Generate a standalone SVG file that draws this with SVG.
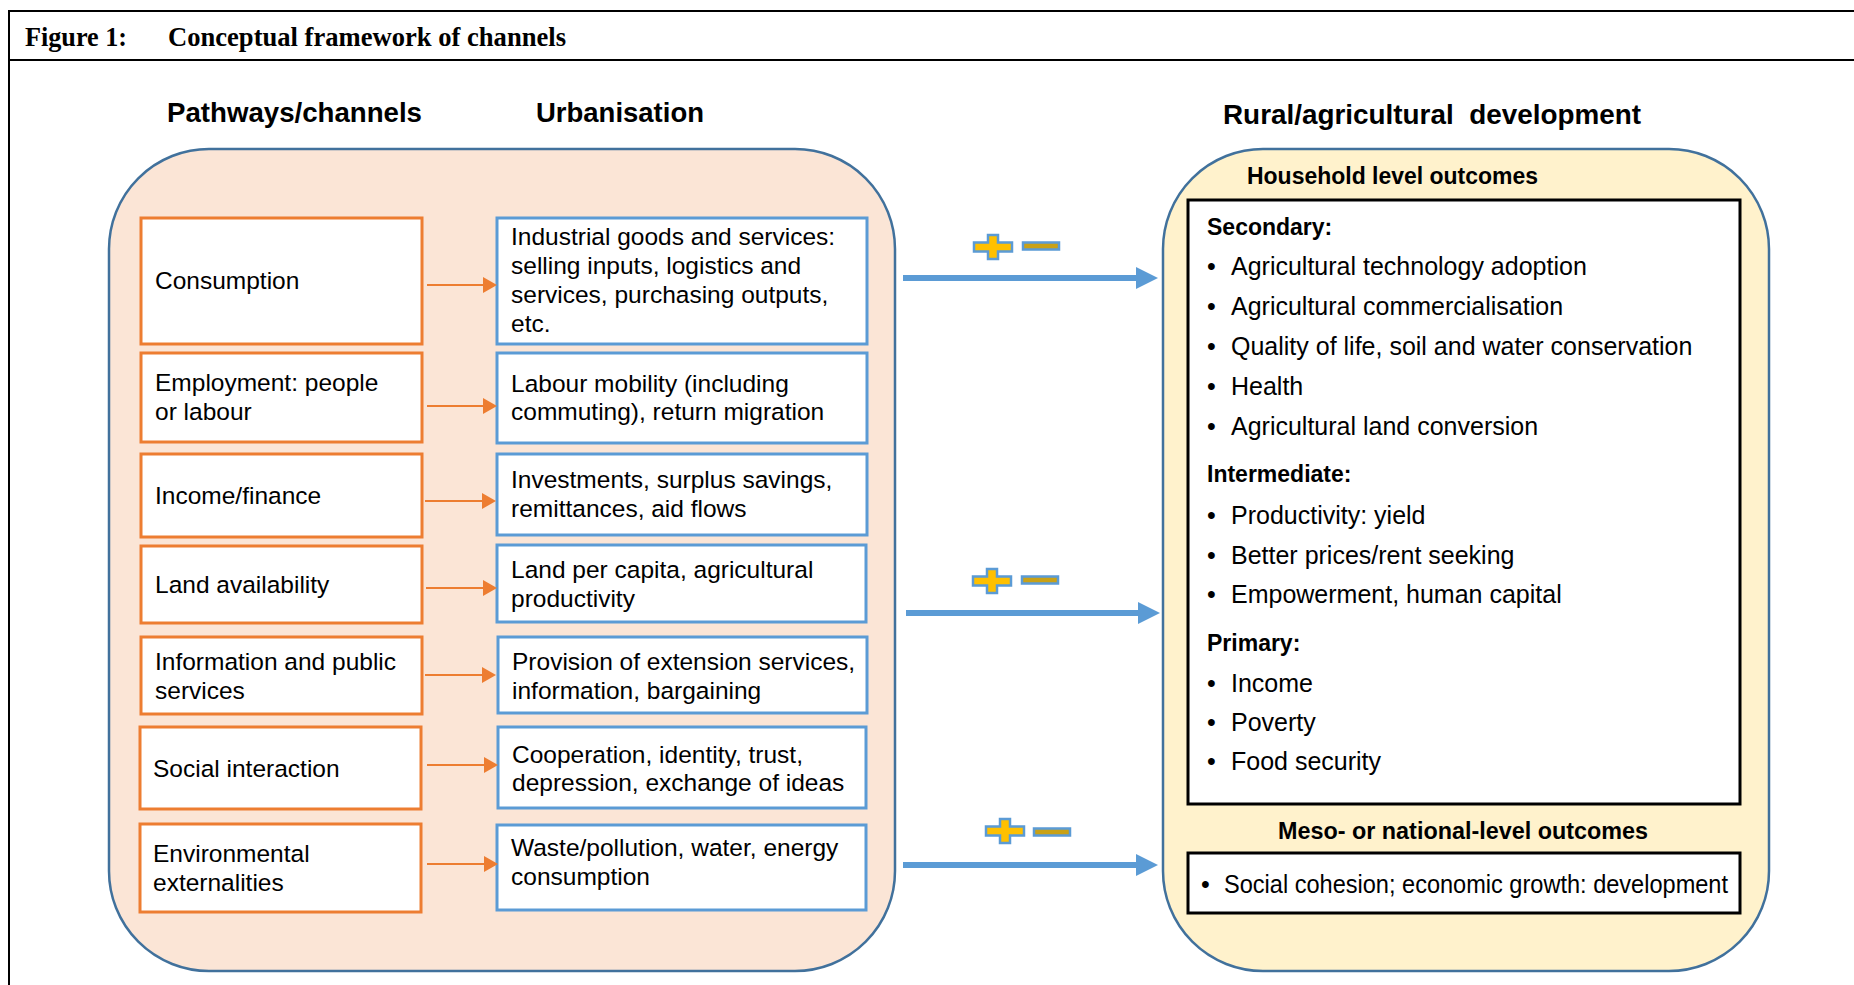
<svg xmlns="http://www.w3.org/2000/svg" width="1854" height="985" viewBox="0 0 1854 985">
<defs>
<style>
.t{font-family:"Liberation Sans",Arial,sans-serif;font-size:24.5px;fill:#000}
.tr{font-family:"Liberation Sans",Arial,sans-serif;font-size:25px;fill:#000}
.h{font-family:"Liberation Sans",Arial,sans-serif;font-size:28px;font-weight:bold;fill:#000}
.hs{font-family:"Liberation Sans",Arial,sans-serif;font-size:23px;font-weight:bold;fill:#000}
.ttl{font-family:"Liberation Serif","Times New Roman",serif;font-size:27px;font-weight:bold;fill:#000}
.ob{fill:#fff;stroke:#ED7D31;stroke-width:3}
.bb{fill:#fff;stroke:#5B9BD5;stroke-width:3}
.kb{fill:#fff;stroke:#000;stroke-width:3}
.oa{stroke:#ED7D31;stroke-width:2;fill:none}
.ba{stroke:#5B9BD5;stroke-width:6;fill:none}
.pm{fill:#FFC000;stroke:#5B9BD5;stroke-width:2.5}
.mn{fill:#C9A116;stroke:#5B9BD5;stroke-width:2.5}
</style>
<marker id="oh" markerUnits="userSpaceOnUse" markerWidth="14" markerHeight="16" viewBox="0 0 14 16" refX="0" refY="8" orient="auto"><path d="M0,0 L14,8 L0,16 Z" fill="#ED7D31"/></marker>
<marker id="bh" markerUnits="userSpaceOnUse" markerWidth="22" markerHeight="22" viewBox="0 0 22 22" refX="0" refY="11" orient="auto"><path d="M0,0 L22,11 L0,22 Z" fill="#5B9BD5"/></marker>
<path id="plus" d="M-5,-12 H5 V-4.5 H19 V4.5 H5 V12 H-5 V4.5 H-19 V-4.5 H-5 Z"/>
<rect id="minus" x="-18" y="-3.5" width="36" height="7"/>
</defs>
<rect width="1854" height="985" fill="#fff"/>
<g id="frame">
<rect x="9" y="11" width="1900" height="1000" fill="none" stroke="#000" stroke-width="2"/>
<line x1="9" y1="60" x2="1854" y2="60" stroke="#000" stroke-width="2"/>
<text class="ttl" x="25" y="46" textLength="102" lengthAdjust="spacingAndGlyphs">Figure 1:</text>
<text class="ttl" x="168" y="46" textLength="398" lengthAdjust="spacingAndGlyphs">Conceptual framework of channels</text>
</g>
<g id="headers">
<text class="h" x="167" y="122" textLength="255" lengthAdjust="spacingAndGlyphs">Pathways/channels</text>
<text class="h" x="536" y="122" textLength="168" lengthAdjust="spacingAndGlyphs">Urbanisation</text>
<text class="h" x="1223" y="124" textLength="418" lengthAdjust="spacingAndGlyphs" xml:space="preserve">Rural/agricultural  development</text>
</g>
<g id="urbanisation-panel">
<rect x="109" y="149" width="786" height="822" rx="100" ry="100" fill="#FBE5D6" stroke="#41719C" stroke-width="2.5"/>
</g>
<g id="rural-panel">
<rect x="1163" y="149" width="606" height="822" rx="100" ry="100" fill="#FFF2CC" stroke="#41719C" stroke-width="2.5"/>
<text class="hs" x="1247" y="184" textLength="291" lengthAdjust="spacingAndGlyphs">Household level outcomes</text>
<text class="hs" x="1278" y="839" textLength="370" lengthAdjust="spacingAndGlyphs">Meso- or national-level outcomes</text>
</g>
<g id="ch-consumption"><rect class="ob" x="141" y="218" width="281" height="126"/><text class="t" x="155" y="289">Consumption</text></g>
<g id="ch-employment"><rect class="ob" x="141" y="353" width="281" height="89"/><text class="t" x="155" y="391">Employment: people</text><text class="t" x="155" y="420">or labour</text></g>
<g id="ch-income"><rect class="ob" x="141" y="454" width="281" height="83"/><text class="t" x="155" y="504">Income/finance</text></g>
<g id="ch-land"><rect class="ob" x="141" y="546" width="281" height="77"/><text class="t" x="155" y="593">Land availability</text></g>
<g id="ch-information"><rect class="ob" x="141" y="637" width="281" height="77"/><text class="t" x="155" y="670">Information and public</text><text class="t" x="155" y="699">services</text></g>
<g id="ch-social"><rect class="ob" x="140" y="727" width="281" height="82"/><text class="t" x="153" y="777">Social interaction</text></g>
<g id="ch-environment"><rect class="ob" x="140" y="824" width="281" height="88"/><text class="t" x="153" y="862">Environmental</text><text class="t" x="153" y="891">externalities</text></g>
<g id="u-industrial"><rect class="bb" x="497" y="218" width="370" height="126"/><text class="t" x="511" y="245">Industrial goods and services:</text><text class="t" x="511" y="274">selling inputs, logistics and</text><text class="t" x="511" y="303">services, purchasing outputs,</text><text class="t" x="511" y="332">etc.</text></g>
<g id="u-labour"><rect class="bb" x="497" y="353" width="370" height="90"/><text class="t" x="511" y="392">Labour mobility (including</text><text class="t" x="511" y="420">commuting), return migration</text></g>
<g id="u-investments"><rect class="bb" x="497" y="454" width="370" height="81"/><text class="t" x="511" y="488">Investments, surplus savings,</text><text class="t" x="511" y="517">remittances, aid flows</text></g>
<g id="u-landpc"><rect class="bb" x="497" y="545" width="369" height="77"/><text class="t" x="511" y="578">Land per capita, agricultural</text><text class="t" x="511" y="607">productivity</text></g>
<g id="u-extension"><rect class="bb" x="498" y="637" width="369" height="76"/><text class="t" x="512" y="670">Provision of extension services,</text><text class="t" x="512" y="699">information, bargaining</text></g>
<g id="u-cooperation"><rect class="bb" x="498" y="727" width="368" height="81"/><text class="t" x="512" y="763">Cooperation, identity, trust,</text><text class="t" x="512" y="791">depression, exchange of ideas</text></g>
<g id="u-waste"><rect class="bb" x="497" y="825" width="369" height="85"/><text class="t" x="511" y="856">Waste/pollution, water, energy</text><text class="t" x="511" y="885">consumption</text></g>
<g id="household-box">
<rect class="kb" x="1188" y="200" width="552" height="604"/>
<text class="hs" x="1207" y="235">Secondary:</text>
<text class="tr" x="1207" y="275">•</text><text class="tr" x="1231" y="275">Agricultural technology adoption</text>
<text class="tr" x="1207" y="315">•</text><text class="tr" x="1231" y="315">Agricultural commercialisation</text>
<text class="tr" x="1207" y="355">•</text><text class="tr" x="1231" y="355">Quality of life, soil and water conservation</text>
<text class="tr" x="1207" y="395">•</text><text class="tr" x="1231" y="395">Health</text>
<text class="tr" x="1207" y="435">•</text><text class="tr" x="1231" y="435">Agricultural land conversion</text>
<text class="hs" x="1207" y="482">Intermediate:</text>
<text class="tr" x="1207" y="524">•</text><text class="tr" x="1231" y="524">Productivity: yield</text>
<text class="tr" x="1207" y="564">•</text><text class="tr" x="1231" y="564">Better prices/rent seeking</text>
<text class="tr" x="1207" y="603">•</text><text class="tr" x="1231" y="603">Empowerment, human capital</text>
<text class="hs" x="1207" y="651">Primary:</text>
<text class="tr" x="1207" y="692">•</text><text class="tr" x="1231" y="692">Income</text>
<text class="tr" x="1207" y="731">•</text><text class="tr" x="1231" y="731">Poverty</text>
<text class="tr" x="1207" y="770">•</text><text class="tr" x="1231" y="770">Food security</text>
</g>
<g id="national-box">
<rect class="kb" x="1188" y="853" width="552" height="60"/>
<text class="tr" x="1201" y="893">•</text><text class="tr" x="1224" y="893" textLength="504" lengthAdjust="spacingAndGlyphs">Social cohesion; economic growth: development</text>
</g>
<g id="connectors">
<line class="oa" x1="427" y1="285" x2="483" y2="285" marker-end="url(#oh)"/>
<line class="oa" x1="427" y1="406" x2="483" y2="406" marker-end="url(#oh)"/>
<line class="oa" x1="425" y1="501" x2="482" y2="501" marker-end="url(#oh)"/>
<line class="oa" x1="426" y1="588" x2="483" y2="588" marker-end="url(#oh)"/>
<line class="oa" x1="425" y1="675" x2="482" y2="675" marker-end="url(#oh)"/>
<line class="oa" x1="427" y1="765" x2="484" y2="765" marker-end="url(#oh)"/>
<line class="oa" x1="427" y1="864" x2="484" y2="864" marker-end="url(#oh)"/>
<line class="ba" x1="903" y1="278" x2="1136" y2="278" marker-end="url(#bh)"/>
<line class="ba" x1="906" y1="613" x2="1138" y2="613" marker-end="url(#bh)"/>
<line class="ba" x1="903" y1="865" x2="1136" y2="865" marker-end="url(#bh)"/>
<use href="#plus" class="pm" x="993" y="247"/>
<use href="#minus" class="mn" x="1041" y="246"/>
<use href="#plus" class="pm" x="992" y="581"/>
<use href="#minus" class="mn" x="1040" y="580"/>
<use href="#plus" class="pm" x="1005" y="831"/>
<use href="#minus" class="mn" x="1052" y="832"/>
</g>
</svg>
